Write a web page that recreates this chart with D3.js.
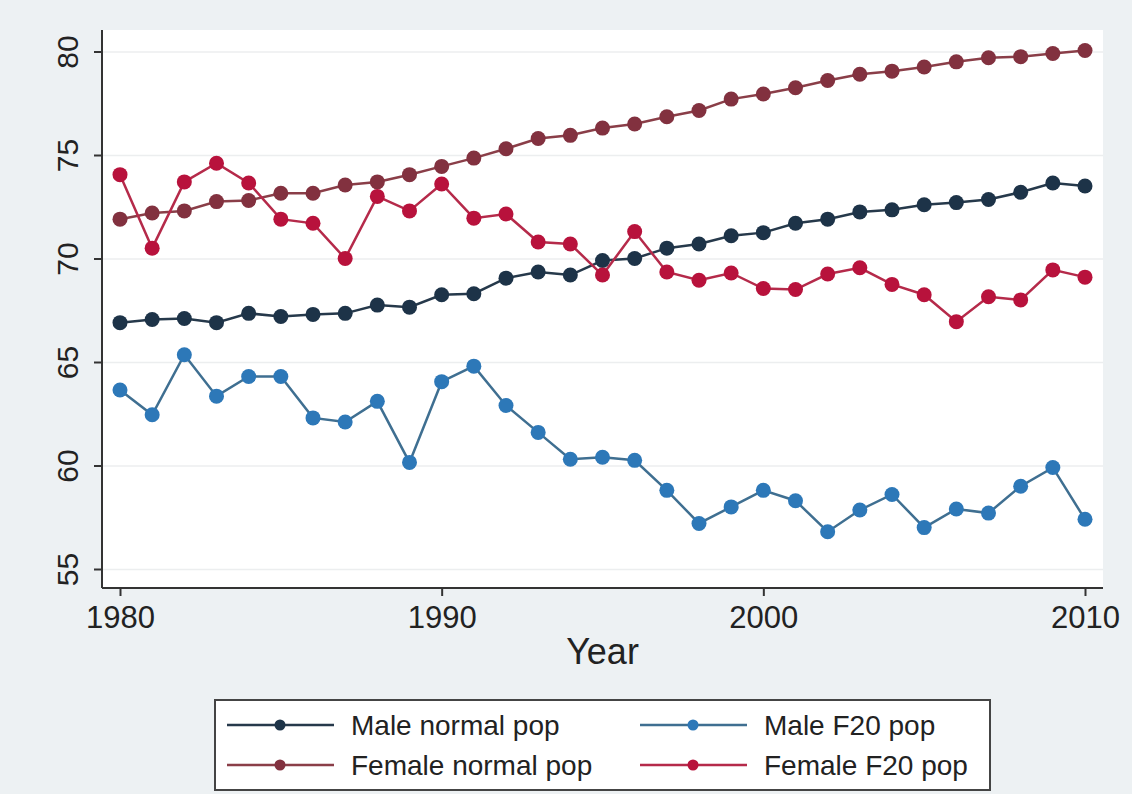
<!DOCTYPE html>
<html>
<head>
<meta charset="utf-8">
<script src="https://cdn.jsdelivr.net/npm/d3@7"></script>
<style>
    body { margin: 0; background: #edf1f3; }
    svg { display: block; font-family: "Liberation Sans", Arial, sans-serif; }
</style>
</head>
<body>
<div id="chart"></div>
<script>
'use strict';

// DATA
var years = [1980, 1981, 1982, 1983, 1984, 1985, 1986, 1987, 1988, 1989,
             1990, 1991, 1992, 1993, 1994, 1995, 1996, 1997, 1998, 1999,
             2000, 2001, 2002, 2003, 2004, 2005, 2006, 2007, 2008, 2009, 2010];

var maleNormal = [66.9, 67.05, 67.1, 66.9, 67.35, 67.2, 67.3, 67.35, 67.75, 67.65,
                  68.25, 68.3, 69.05, 69.35, 69.2, 69.9, 70.0, 70.5, 70.7, 71.1,
                  71.25, 71.7, 71.9, 72.25, 72.35, 72.6, 72.7, 72.85, 73.2, 73.65, 73.5];

var femaleNormal = [71.9, 72.2, 72.3, 72.75, 72.8, 73.15, 73.15, 73.55, 73.7, 74.05,
                    74.45, 74.85, 75.3, 75.8, 75.95, 76.3, 76.5, 76.85, 77.15, 77.7,
                    77.95, 78.25, 78.6, 78.9, 79.05, 79.25, 79.5, 79.7, 79.75, 79.9, 80.05];

var maleF20 = [63.65, 62.45, 65.35, 63.35, 64.3, 64.3, 62.3, 62.1, 63.1, 60.15,
               64.05, 64.8, 62.9, 61.6, 60.3, 60.4, 60.25, 58.8, 57.2, 58.0,
               58.8, 58.3, 56.8, 57.85, 58.6, 57.0, 57.9, 57.7, 59.0, 59.9, 57.4];

var femaleF20 = [74.05, 70.5, 73.7, 74.6, 73.65, 71.9, 71.7, 70.0, 73.0, 72.3,
                 73.6, 71.95, 72.15, 70.8, 70.7, 69.2, 71.3, 69.35, 68.95, 69.3,
                 68.55, 68.5, 69.25, 69.55, 68.75, 68.25, 66.95, 68.15, 68.0, 69.45, 69.1];

var xTicks = [1980, 1990, 2000, 2010];
var yTicks = [55, 60, 65, 70, 75, 80];
var seriesNames = ["Male normal pop", "Female normal pop", "Male F20 pop", "Female F20 pop"];

var series = [
    {name: seriesNames[0], values: maleNormal,   color: "#1d3348", line: "#26394b"},
    {name: seriesNames[1], values: femaleNormal, color: "#82313f", line: "#8a3e48"},
    {name: seriesNames[2], values: maleF20,      color: "#2d78b8", line: "#3f6f91"},
    {name: seriesNames[3], values: femaleF20,    color: "#b8123c", line: "#b52a4a"}
];

var outerWidth = 1132,
    outerHeight = 794,
    plot = {left: 102, right: 1103, top: 30, bottom: 588};

var svg = d3.select("#chart").append("svg")
    .attr("width", outerWidth)
    .attr("height", outerHeight);

// backgrounds
svg.append("rect")
    .attr("width", outerWidth)
    .attr("height", outerHeight)
    .attr("fill", "#edf1f3");

svg.append("rect")
    .attr("x", plot.left)
    .attr("y", plot.top)
    .attr("width", plot.right - plot.left)
    .attr("height", plot.bottom - plot.top)
    .attr("fill", "#ffffff");

var xScale = d3.scaleLinear()
    .domain([1980, 2010])
    .range([120, 1085]);

var yScale = d3.scaleLinear()
    .domain([55, 80])
    .range([569, 51.5]);

// GRIDLINES
svg.append("g")
    .attr("class", "grid")
    .attr("transform", "translate(" + plot.left + ",0)")
    .call(d3.axisLeft(yScale).tickValues(yTicks).tickSize(-(plot.right - plot.left)).tickFormat(""))
    .call(function (g) {
        g.select(".domain").remove();
        g.selectAll("line").attr("stroke", "#eceeef").attr("stroke-width", 1.5);
    });

// AXES
var yAxis = svg.append("g")
    .attr("class", "axis")
    .attr("transform", "translate(" + plot.left + ",0)")
    .call(d3.axisLeft(yScale).tickValues(yTicks).tickSize(8).tickPadding(12));

yAxis.select(".domain")
    .attr("d", "M0," + plot.top + "V" + plot.bottom);

yAxis.selectAll("text")
    .attr("transform", "rotate(-90)")
    .attr("x", 0)
    .attr("y", -24)
    .attr("dy", 0)
    .style("text-anchor", "middle")
    .style("font-size", "30px");

var xAxis = svg.append("g")
    .attr("class", "axis")
    .attr("transform", "translate(0," + plot.bottom + ")")
    .call(d3.axisBottom(xScale).tickValues(xTicks).tickSize(8).tickPadding(10).tickFormat(d3.format("d")));

xAxis.select(".domain")
    .attr("d", "M" + plot.left + ",0H" + plot.right);

xAxis.selectAll("text")
    .style("font-size", "31px");

svg.selectAll(".axis .domain, .axis .tick line")
    .attr("stroke", "#333")
    .attr("stroke-width", 2);

svg.selectAll(".axis .tick text")
    .attr("fill", "#222");

svg.append("text")
    .attr("x", (plot.left + plot.right) / 2)
    .attr("y", 664)
    .attr("text-anchor", "middle")
    .attr("fill", "#222")
    .style("font-size", "36px")
    .text("Year");

// LINES AND MARKERS
var line = d3.line()
    .x(function (d, i) { return xScale(years[i]); })
    .y(function (d) { return yScale(d); });

var groups = svg.selectAll(".series")
    .data(series)
    .enter().append("g")
    .attr("class", "series");

groups.append("path")
    .attr("d", function (d) { return line(d.values); })
    .attr("fill", "none")
    .attr("stroke", function (d) { return d.line; })
    .attr("stroke-width", 2.5);

groups.each(function (s) {
    d3.select(this).selectAll("circle")
        .data(s.values)
        .enter().append("circle")
        .attr("cx", function (d, i) { return xScale(years[i]); })
        .attr("cy", function (d) { return yScale(d); })
        .attr("r", 7.5)
        .attr("fill", s.color);
});

// LEGEND
var legend = svg.append("g");

legend.append("rect")
    .attr("x", 215)
    .attr("y", 700)
    .attr("width", 775)
    .attr("height", 90)
    .attr("fill", "#ffffff")
    .attr("stroke", "#444")
    .attr("stroke-width", 2);

var legendOrder = [0, 2, 1, 3];
var items = legend.selectAll(".item")
    .data(legendOrder.map(function (k) { return series[k]; }))
    .enter().append("g")
    .attr("transform", function (d, i) {
        var col = i % 2, row = Math.floor(i / 2);
        return "translate(" + (227 + col * 413) + "," + (725 + row * 40) + ")";
    });

items.append("line")
    .attr("x1", 0)
    .attr("x2", 107)
    .attr("stroke", function (d) { return d.line; })
    .attr("stroke-width", 2.5);

items.append("circle")
    .attr("cx", 53)
    .attr("r", 5.5)
    .attr("fill", function (d) { return d.color; });

items.append("text")
    .attr("x", 124)
    .attr("dy", "0.35em")
    .attr("fill", "#222")
    .style("font-size", "28px")
    .text(function (d) { return d.name; });
</script>
</body>
</html>
